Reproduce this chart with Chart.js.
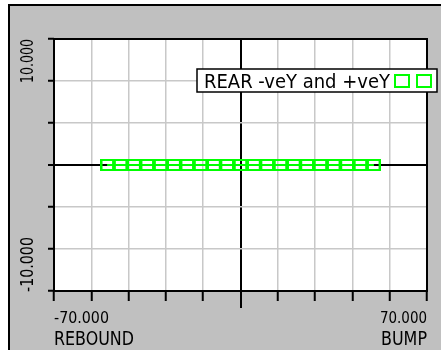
<!DOCTYPE html>
<html>
<head>
<meta charset="utf-8">
<script src="https://cdn.jsdelivr.net/npm/chart.js@4"></script>
<style>
  html, body { margin: 0; padding: 0; background: #fff; }
  #wrap { width: 441px; height: 350px; }
</style>
</head>
<body>
<div id="wrap"><canvas id="plot" width="441" height="350"></canvas></div>
<script>
// travel positions (x) and the two rear series (y)
const travel = [-50, -45, -40, -35, -30, -25, -20, -15, -10, -5, 0, 5, 10, 15, 20, 25, 30, 35, 40, 45, 50];
const rearNegY = [0, 0, 0, 0, 0, 0, 0, 0, 0, 0, 0, 0, 0, 0, 0, 0, 0, 0, 0, 0, 0];
const rearPosY = [0, 0, 0, 0, 0, 0, 0, 0, 0, 0, 0, 0, 0, 0, 0, 0, 0, 0, 0, 0, 0];

const xTickValues = [-70, 70];
const xTickLabels = ['-70.000', '70.000'];
const yTickValues = [10, -10];
const yTickLabels = ['10.000', '-10.000'];
const xTitles = ['REBOUND', 'BUMP'];
const legendText = 'REAR -veY and +veY';

const GREEN = '#00ff00';
const FONT = '"DejaVu Sans Condensed", "DejaVu Sans", sans-serif';

const pts = (ys) => travel.map((x, i) => ({ x: x, y: ys[i] }));

// hollow box marker, a bit wider than tall
const marker = document.createElement('canvas');
marker.width = 14;
marker.height = 12;
(function () {
  const m = marker.getContext('2d');
  m.strokeStyle = GREEN;
  m.lineWidth = 2;
  m.strokeRect(1, 1, 12, 10);
})();

// draw text squeezed/stretched to a given width
function fitText(ctx, text, x, y, width, align, size) {
  ctx.font = size + 'px ' + FONT;
  const w = ctx.measureText(text).width;
  const sx = width / w;
  ctx.save();
  ctx.translate(x, y);
  ctx.scale(sx, 1);
  ctx.textAlign = align;
  ctx.fillText(text, 0, 0);
  ctx.restore();
}

// grey panel with the black frame on top/left
const panel = {
  id: 'panel',
  beforeDraw(chart) {
    const ctx = chart.ctx;
    ctx.save();
    ctx.fillStyle = '#ffffff';
    ctx.fillRect(0, 0, chart.width, chart.height);
    ctx.fillStyle = '#c0c0c0';
    ctx.fillRect(8, 4, chart.width - 8, chart.height - 4);
    ctx.fillStyle = '#000';
    ctx.fillRect(8, 4, 2, chart.height - 4);
    ctx.fillRect(8, 4, chart.width - 8, 2);
    const a = chart.chartArea;
    ctx.fillStyle = '#fff';
    ctx.fillRect(a.left, a.top, a.right - a.left, a.bottom - a.top);
    ctx.restore();
  },
  afterDatasetsDraw(chart) {
    const ctx = chart.ctx;
    const a = chart.chartArea;
    const xs = chart.scales.x;
    const ys = chart.scales.y;
    ctx.save();
    // plot frame
    ctx.strokeStyle = '#000';
    ctx.lineWidth = 2;
    ctx.strokeRect(a.left, a.top, a.right - a.left, a.bottom - a.top);
    // longer centre tick
    const cx = Math.round(xs.getPixelForValue(0));
    ctx.beginPath();
    ctx.moveTo(cx, a.bottom);
    ctx.lineTo(cx, a.bottom + 17);
    ctx.stroke();

    ctx.fillStyle = '#000';
    ctx.textBaseline = 'alphabetic';
    // x tick labels
    xTickValues.forEach((v, i) => {
      fitText(ctx, xTickLabels[i], xs.getPixelForValue(v), a.bottom + 32,
        i === 0 ? 55 : 47, i === 0 ? 'left' : 'right', 16);
    });
    // x titles
    fitText(ctx, xTitles[0], a.left, a.bottom + 54, 80, 'left', 19);
    fitText(ctx, xTitles[1], a.right, a.bottom + 54, 46, 'right', 19);

    // y tick labels, rotated
    yTickValues.forEach((v, i) => {
      const py = i === 0 ? ys.getPixelForValue(v) + 2 : ys.getPixelForValue(ys.min) + 1;
      ctx.save();
      ctx.translate(33, py);
      ctx.rotate(-Math.PI / 2);
      fitText(ctx, yTickLabels[i], 0, 0, i === 0 ? 44 : 55, 'left', 17);
      ctx.restore();
    });

    // legend box
    const lx = 197, ly = 69, lw = 240, lh = 23;
    ctx.fillStyle = '#fff';
    ctx.fillRect(lx, ly, lw, lh);
    ctx.lineWidth = 1.5;
    ctx.strokeStyle = '#000';
    ctx.strokeRect(lx, ly, lw, lh);
    ctx.fillStyle = '#000';
    fitText(ctx, legendText, lx + 7, ly + 19, 186, 'left', 19);
    ctx.strokeStyle = GREEN;
    ctx.lineWidth = 2;
    chart.data.datasets.forEach((d, i) => {
      ctx.strokeRect(lx + 198 + i * 22, ly + 6, 14, 12);
    });
    ctx.restore();
  }
};

const gridColor = (c) => (c.tick && c.tick.value === 0 ? '#000000' : '#c8c8c8');
const gridWidth = (c) => (c.tick && c.tick.value === 0 ? 2 : 1.5);

const series = (label, ys) => ({
  label: label, data: pts(ys), borderColor: GREEN, borderWidth: 2,
  pointStyle: marker, pointRadius: 7, fill: false, tension: 0
});

new Chart(document.getElementById('plot'), {
  type: 'line',
  data: {
    datasets: [series('REAR -veY', rearNegY), series('REAR +veY', rearPosY)]
  },
  options: {
    responsive: false,
    animation: false,
    events: [],
    layout: { padding: { left: 48, top: 39, right: 14, bottom: 49 } },
    plugins: { legend: { display: false }, tooltip: { enabled: false } },
    scales: {
      x: {
        type: 'linear', min: -70, max: 70,
        ticks: { display: false, stepSize: 14 },
        border: { display: false },
        grid: { color: gridColor, lineWidth: gridWidth, drawTicks: true, tickLength: 10,
                tickColor: '#000', tickWidth: 2 }
      },
      y: {
        type: 'linear', min: -15, max: 15,
        ticks: { display: false, stepSize: 5 },
        border: { display: false },
        grid: { color: gridColor, lineWidth: gridWidth, drawTicks: true, tickLength: 6,
                tickColor: '#000', tickWidth: 2 }
      }
    }
  },
  plugins: [panel]
});
</script>
</body>
</html>
